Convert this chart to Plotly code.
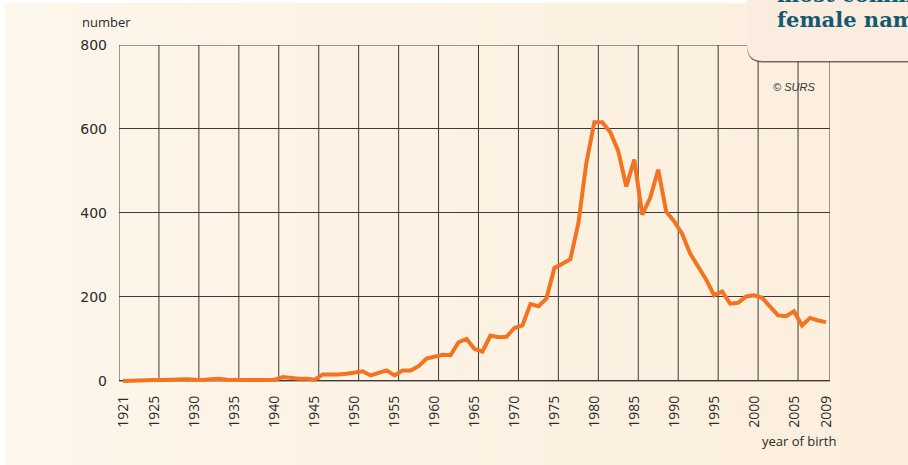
import plotly.graph_objects as go

# ---------------- data ----------------
years = list(range(1921, 2010))
counts = [
    0, 1, 1, 2, 2, 2, 3, 2, 4, 3,          # 1921-1930
    2, 4, 5, 3, 2, 3, 2, 2, 3, 3,          # 1931-1940
    9, 6, 5, 5, 3, 15, 14, 15, 17, 20,     # 1941-1950
    23, 13, 18, 25, 13, 25, 25, 35, 53, 57,   # 1951-1960
    62, 61, 92, 100, 76, 70, 108, 104, 105, 126,  # 1961-1970
    132, 183, 178, 196, 269, 279, 290, 375, 519, 616,  # 1971-1980
    616, 592, 547, 463, 527, 396, 436, 503, 403, 380,  # 1981-1990
    350, 303, 272, 241, 204, 213, 184, 186, 201, 204,  # 1991-2000
    198, 178, 156, 154, 166, 132, 150, 144, 140,       # 2001-2009
]
x_tick_vals = [1921, 1925, 1930, 1935, 1940, 1945, 1950, 1955, 1960, 1965,
               1970, 1975, 1980, 1985, 1990, 1995, 2000, 2005, 2009]
x_tick_text = [str(v) for v in x_tick_vals]
y_tick_vals = [0, 200, 400, 600, 800]
y_tick_text = [str(v) for v in y_tick_vals]
grid_years = [1925.5 + 5 * k for k in range(17)]  # boundaries 1925|1926 ... 2005|2006

# ---------------- geometry ----------------
W, H = 908, 465
L, R, T, B = 119, 78, 45, 82
PW, PH = W - L - R, H - T - B


def px_x(px):
    return (px - L) / PW


def px_y(py):
    return (H - B - py) / PH


LINE_COL = "#f47321"
GRID_COL = "#3d3a37"
TEXT_COL = "#2b2b2b"

fig = go.Figure()
fig.add_trace(go.Scatter(
    x=years, y=counts, mode="lines",
    line=dict(color=LINE_COL, width=4, shape="linear"),
    hoverinfo="x+y", showlegend=False,
))

shapes = []
# background: cream with slight horizontal gradient
N = 40
c0 = (253, 246, 234)
c1 = (252, 238, 220)
x_start, x_end = 5, W + 2
for i in range(N):
    t = i / (N - 1)
    col = tuple(round(c0[k] + (c1[k] - c0[k]) * t) for k in range(3))
    xa = x_start + (x_end - x_start) * i / N
    xb = x_start + (x_end - x_start) * (i + 1) / N + 0.6
    shapes.append(dict(type="rect", xref="paper", yref="paper",
                       x0=px_x(xa), x1=px_x(xb), y0=px_y(H + 2), y1=px_y(3),
                       fillcolor="rgb(%d,%d,%d)" % col, line=dict(width=0),
                       layer="below"))

# vertical grid lines (at year boundaries)
for g in grid_years:
    shapes.append(dict(type="line", xref="x", yref="y", x0=g, x1=g, y0=0, y1=800,
                       line=dict(color=GRID_COL, width=1), layer="below"))
# frame
shapes.append(dict(type="rect", xref="x", yref="y", x0=1920.5, x1=2009.5, y0=0, y1=800,
                   line=dict(color=GRID_COL, width=1), layer="below"))


def rounded_box(left, bottom, rad, top, right):
    return ("M {a},{b} L {a},{c} Q {a},{d} {e},{d} L {f},{d} L {f},{b} Z".format(
        a=px_x(left), b=px_y(top), c=px_y(bottom - rad), d=px_y(bottom),
        e=px_x(left + rad), f=px_x(right)))


# title box shadow + box (top right, clipped by page edge)
shapes.append(dict(type="path", xref="paper", yref="paper",
                   path=rounded_box(747, 62.5, 16, -20, W + 20),
                   fillcolor="rgba(60,50,42,0.7)", line=dict(width=0), layer="above"))
shapes.append(dict(type="path", xref="paper", yref="paper",
                   path=rounded_box(747, 61, 16, -20, W + 20),
                   fillcolor="#fbece0", line=dict(width=0), layer="above"))

annotations = [
    dict(text="number", xref="paper", yref="paper", x=px_x(80), y=px_y(22),
         xanchor="left", yanchor="middle", showarrow=False,
         font=dict(family="Open Sans", size=13, color=TEXT_COL)),
    dict(text="year of birth", xref="paper", yref="paper", x=px_x(838), y=px_y(441),
         xanchor="right", yanchor="middle", showarrow=False,
         font=dict(family="Open Sans", size=13, color=TEXT_COL)),
    dict(text="<i>© SURS</i>", xref="paper", yref="paper", x=px_x(771), y=px_y(87),
         xanchor="left", yanchor="middle", showarrow=False,
         font=dict(family="Liberation Sans", size=11, color="#333333")),
    dict(text="<b>female name</b>", xref="paper", yref="paper", x=px_x(775), y=px_y(19),
         xanchor="left", yanchor="middle", showarrow=False,
         font=dict(family="DejaVu Serif", size=21, color="#135a70")),
    dict(text="<b>most common</b>", xref="paper", yref="paper", x=px_x(775), y=px_y(-6),
         xanchor="left", yanchor="middle", showarrow=False,
         font=dict(family="DejaVu Serif", size=21, color="#135a70")),
]

fig.update_layout(
    width=W, height=H,
    margin=dict(l=L, r=R, t=T, b=B, pad=0),
    paper_bgcolor="white",
    plot_bgcolor="rgba(0,0,0,0)",
    shapes=shapes,
    annotations=annotations,
    showlegend=False,
    xaxis=dict(
        range=[1920.5, 2009.5], tickmode="array", tickvals=x_tick_vals,
        ticktext=x_tick_text, tickangle=-90, showgrid=False, zeroline=False,
        showline=False, ticks="", ticklabelstandoff=9,
        tickfont=dict(family="Open Sans", size=14, color=TEXT_COL),
    ),
    yaxis=dict(
        range=[-5, 800], tickmode="array", tickvals=y_tick_vals,
        ticktext=y_tick_text, showgrid=True, gridcolor=GRID_COL, gridwidth=1,
        zeroline=False, showline=False, ticks="", ticklabelstandoff=11,
        tickfont=dict(family="DejaVu Sans", size=14, color=TEXT_COL),
    ),
)

fig.write_html(
    "out.html",
    config={"displayModeBar": False},
    post_script="document.body.style.margin='0';document.body.style.overflow='hidden';",
)
